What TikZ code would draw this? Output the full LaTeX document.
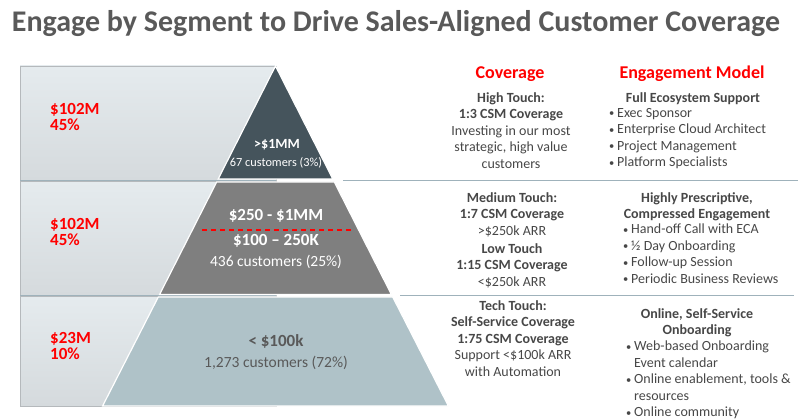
\documentclass[tikz,border=0pt]{standalone}
\usepackage{fontspec}
\setmainfont{Carlito}
\usetikzlibrary{positioning}
\definecolor{titlegrey}{HTML}{595959}
\definecolor{textgrey}{HTML}{474747}
\definecolor{topseg}{HTML}{45545C}
\definecolor{midseg}{HTML}{7F7F7F}
\definecolor{lowseg}{HTML}{AFC2C8}
\definecolor{bandtop}{HTML}{E5EBEE}
\definecolor{bandbot}{HTML}{D5DADD}
\definecolor{bandline}{HTML}{9FB2BB}
\definecolor{hot}{HTML}{FF0000}

\newcommand{\bul}{\makebox[8pt][l]{\raisebox{0.5pt}{\scalebox{0.75}{\textbullet}}}}
\newcommand{\nobul}{\hspace*{8pt}}

\tikzset{
  amt/.style={font=\fontsize{17}{16}\selectfont\bfseries, text=hot, align=left, anchor=north west, inner sep=0pt},
  cov/.style={font=\fontsize{14}{16.5}\selectfont, text=textgrey, align=center, anchor=north, inner sep=0pt},
  bull/.style={font=\fontsize{14}{16.5}\selectfont, text=textgrey, align=left, anchor=north west, inner sep=0pt},
  colhead/.style={font=\fontsize{18}{20}\selectfont\bfseries, text=hot, anchor=base, inner sep=0pt},
  seglabel/.style={font=\fontsize{17}{18}\selectfont\bfseries, anchor=base, inner sep=0pt},
  segcount/.style={font=\fontsize{15.5}{17}\selectfont, anchor=base, inner sep=0pt},
  band/.style={top color=bandtop, bottom color=bandbot, draw=bandbot!85!black, line width=0.6pt},
  seg/.style={draw=white, line width=1.2pt},
  sep/.style={draw=bandline, line width=1.2pt},
}

\begin{document}
\begin{tikzpicture}[x=1pt,y=-1pt]
  \useasboundingbox (0,0) rectangle (800,419);

  % title
  \node[font=\fontsize{30}{32}\selectfont\bfseries, text=titlegrey, anchor=base, inner sep=0pt] (title) at (396,31.5) {Engage by Segment to Drive Sales-Aligned Customer Coverage};

  % left bands
  \draw[band] (20,66) rectangle (276,180);
  \draw[band] (20,181) rectangle (276,295);
  \draw[band] (20,296) rectangle (276,406);
  \draw[sep] (20,180.5) -- (276,180.5);
  \draw[sep] (20,295.5) -- (276,295.5);
  \draw[sep] (343,180.5) -- (798,180.5);
  \draw[sep] (400,295.5) -- (794,295.5);

  % pyramid
  \fill[topseg, seg] (275.5,66) -- (332.8,179) -- (218.2,179) -- cycle;
  \fill[midseg, seg] (216.7,182) -- (334.3,182) -- (391.4,294.5) -- (159.6,294.5) -- cycle;
  \fill[lowseg, seg] (158.3,297) -- (392.7,297) -- (448.4,406) -- (102.6,406) -- cycle;

  % revenue
  \node[amt] (rev1) at (50,103.5) {\$102M\\45\%};
  \node[amt] (rev2) at (50,218.5) {\$102M\\45\%};
  \node[amt] (rev3) at (50,332.5) {\$23M\\10\%};

  % segments
  \node[seglabel, text=white, font=\fontsize{14}{16}\selectfont\bfseries] (top) at (277,149) {>\$1MM};
  \node[segcount, text=white, font=\fontsize{12.3}{13}\selectfont] (topn) at (276,167) {67 customers (3\%)};
  \node[seglabel, text=white] (mida) at (276,220.5) {\$250 - \$1MM};
  \draw[hot, line width=1.5pt, dash pattern=on 5pt off 4pt] (202,230) -- (352,230);
  \node[seglabel, text=white] (midb) at (276,245.5) {\$100 – 250K};
  \node[segcount, text=white] (midn) at (276,267) {436 customers (25\%)};
  \node[seglabel, text=titlegrey] (low) at (276,346) {< \$100k};
  \node[segcount, text=titlegrey] (lown) at (276,367) {1,273 customers (72\%)};

  % column headers
  \node[colhead] (covhead) at (510,79) {Coverage};
  \node[colhead] (enghead) at (692,79) {Engagement Model};

  % high touch
  \node[cov] (cov1) at (511,92) {\textbf{High Touch:}\\\textbf{1:3 CSM Coverage}\\Investing in our most\\strategic, high value\\customers};
  \node[cov] (eng1h) at (693,92) {\textbf{Full Ecosystem Support}};
  \node[bull] (eng1) at (609,108) {\bul Exec Sponsor\\\bul Enterprise Cloud Architect\\\bul Project Management\\\bul Platform Specialists};

  % medium / low touch
  \node[cov] (cov2) at (512,192) {\textbf{Medium Touch:}\\\textbf{1:7 CSM Coverage}\\>\$250k ARR};
  \node[cov] (cov2b) at (512,243) {\textbf{Low Touch}\\\textbf{1:15 CSM Coverage}\\<\$250k ARR};
  \node[cov] (eng2h) at (697,192) {\textbf{Highly Prescriptive,}\\\textbf{Compressed Engagement}};
  \node[bull] (eng2) at (623,224) {\bul Hand-off Call with ECA\\\bul ½ Day Onboarding\\\bul Follow-up Session\\\bul Periodic Business Reviews};

  % tech touch
  \node[cov] (cov3) at (513,300) {\textbf{Tech Touch:}\\\textbf{Self-Service Coverage}\\\textbf{1:75 CSM Coverage}\\Support <\$100k ARR\\with Automation};
  \node[cov] (eng3h) at (697,308) {\textbf{Online, Self-Service}\\\textbf{Onboarding}};
  \node[bull] (eng3) at (626,341) {\bul Web-based Onboarding\\\nobul Event calendar\\\bul Online enablement, tools \&\\\nobul resources\\\bul Online community};
\end{tikzpicture}
\end{document}
